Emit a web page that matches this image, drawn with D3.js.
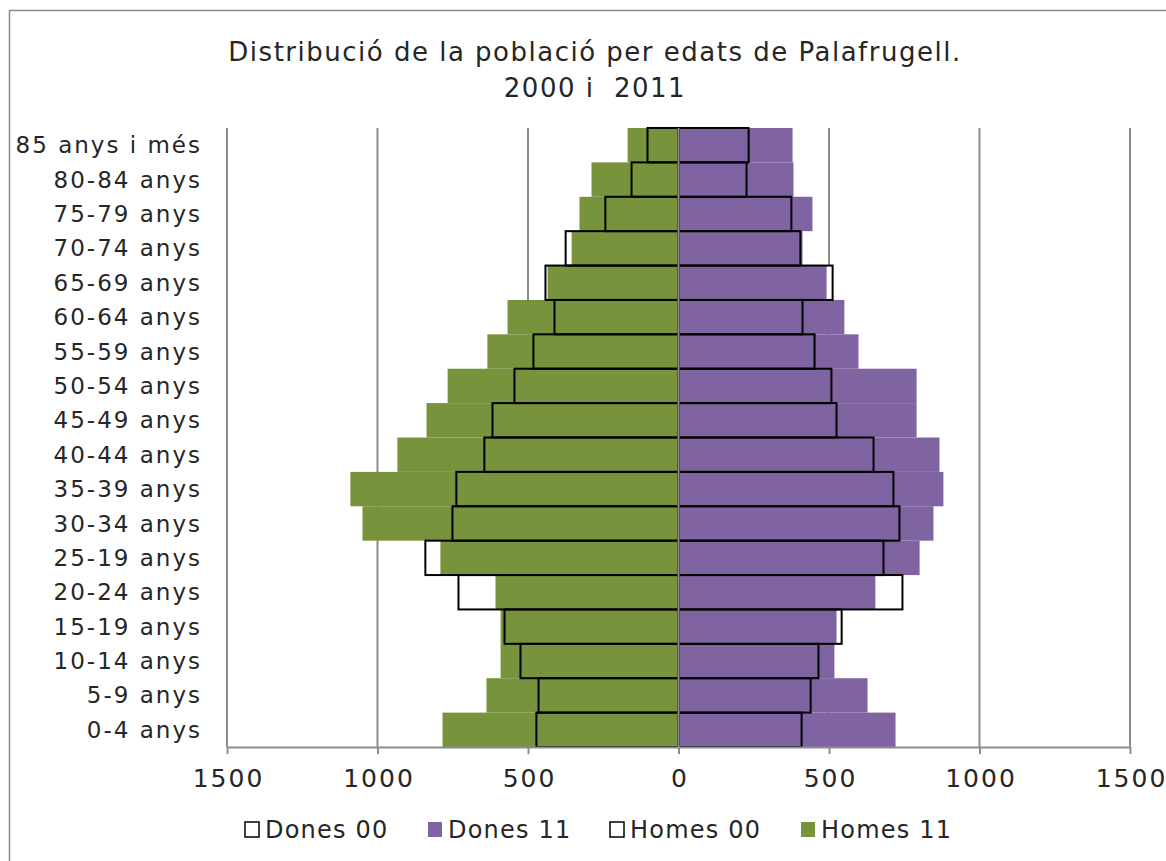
<!DOCTYPE html>
<html>
<head>
<meta charset="utf-8">
<script src="https://cdn.jsdelivr.net/npm/d3@7"></script>
<style>
  body { margin: 0; background: #fff; }
  text { font-family: "DejaVu Sans", sans-serif; fill: #262626; }
</style>
</head>
<body>
<svg id="chart" width="1166" height="861"></svg>
<script>
// age groups, bottom to top (labels as in the original, typo included)
let ages = ["0-4 anys", "5-9 anys", "10-14 anys", "15-19 anys", "20-24 anys", "25-19 anys",
  "30-34 anys", "35-39 anys", "40-44 anys", "45-49 anys", "50-54 anys", "55-59 anys",
  "60-64 anys", "65-69 anys", "70-74 anys", "75-79 anys", "80-84 anys", "85 anys i més"]

let dones00 = [409, 439, 465, 542, 744, 681, 734, 714, 648, 525, 508, 452, 412, 512, 405, 375, 226, 233]
let dones11 = [721, 628, 518, 525, 654, 801, 847, 880, 867, 791, 791, 598, 551, 492, 412, 445, 382, 379]
let homes00 = [472, 465, 525, 578, 731, 841, 751, 738, 645, 618, 545, 482, 412, 442, 375, 243, 156, 103]
let homes11 = [784, 638, 591, 591, 608, 791, 1050, 1090, 934, 837, 767, 635, 568, 435, 355, 329, 289, 169]

let ticks = [-1500, -1000, -500, 0, 500, 1000, 1500]
let titleLines = ["Distribució de la població per edats de Palafrugell.", "2000 i  2011"]

let green = "#77933c", purple = "#8064a2", grid = "#8c8c8c"

let svg = d3.select("#chart")

// chart border (runs off the right/bottom of the picture)
svg.append("rect")
  .attr("x", 9.5).attr("y", 10.5)
  .attr("width", 1200).attr("height", 900)
  .attr("fill", "none").attr("stroke", "#888").attr("stroke-width", 1.5)

let x = d3.scaleLinear().domain([-1500, 1500]).range([227, 1130])
let y = d3.scaleBand().domain(ages.slice().reverse()).range([128, 747]).padding(0)

// vertical gridlines
svg.append("g").selectAll("line")
  .data(ticks.filter(d => d != 0))
  .enter().append("line")
  .attr("x1", d => x(d)).attr("x2", d => x(d))
  .attr("y1", 128).attr("y2", 747)
  .attr("stroke", grid).attr("stroke-width", 2)

function rows(vals, side) {
  return vals.map((v, i) => ({ age: ages[i], v: v * side }))
}

function bars(data, cls, fill, stroke) {
  svg.append("g").attr("class", cls)
    .selectAll("rect")
    .data(data)
    .enter().append("rect")
    .attr("x", d => Math.min(x(0), x(d.v)))
    .attr("width", d => Math.abs(x(d.v) - x(0)))
    .attr("y", d => y(d.age))
    .attr("height", y.bandwidth())
    .attr("fill", fill)
    .attr("stroke", stroke)
    .attr("stroke-width", stroke == "none" ? 0 : 2)
}

// 2000 bars: white under, then 2011 filled, then 2000 outlines on top
bars(rows(dones00, 1), "d00bg", "#fff", "none")
bars(rows(homes00, -1), "h00bg", "#fff", "none")
bars(rows(dones11, 1), "d11", purple, "none")
bars(rows(homes11, -1), "h11", green, "none")
bars(rows(dones00, 1), "d00", "none", "#000")
bars(rows(homes00, -1), "h00", "none", "#000")

// zero line
svg.append("line")
  .attr("x1", x(0)).attr("x2", x(0))
  .attr("y1", 128).attr("y2", 747)
  .attr("stroke", grid).attr("stroke-width", 2)

// x axis
let xAxis = d3.axisBottom(x)
  .tickValues(ticks)
  .tickFormat(d => Math.abs(d))
  .tickSize(7)
  .tickSizeOuter(0)

let ax = svg.append("g")
  .attr("transform", "translate(0,747)")
  .call(xAxis)
ax.select(".domain").attr("stroke", grid).attr("stroke-width", 2)
ax.selectAll(".tick line").attr("stroke", grid).attr("stroke-width", 2)
ax.selectAll(".tick text")
  .attr("y", 22)
  .attr("dx", 1)
  .style("font-size", "25px")
  .style("letter-spacing", "2px")
  .style("font-family", "DejaVu Sans, sans-serif")
  .attr("fill", "#262626")

// age labels
svg.append("g").selectAll("text")
  .data(ages)
  .enter().append("text")
  .attr("x", 202)
  .attr("y", d => y(d) + y.bandwidth() / 2)
  .attr("dy", "0.35em")
  .attr("text-anchor", "end")
  .style("font-size", "23px")
  .style("letter-spacing", "2px")
  .text(d => d)

// title
svg.append("g").selectAll("text")
  .data(titleLines)
  .enter().append("text")
  .attr("x", 595)
  .attr("y", (d, i) => 61 + i * 36)
  .attr("text-anchor", "middle")
  .style("font-size", "26px")
  .style("letter-spacing", "1.5px")
  .style("white-space", "pre")
  .text(d => d)

// legend
let legendItems = [
  { name: "Dones 00", fill: "#fff", stroke: "#000", x: 245 },
  { name: "Dones 11", fill: purple, stroke: "none", x: 428 },
  { name: "Homes 00", fill: "#fff", stroke: "#000", x: 610 },
  { name: "Homes 11", fill: green, stroke: "none", x: 801 }
]
let leg = svg.append("g").selectAll("g")
  .data(legendItems)
  .enter().append("g")
  .attr("transform", d => "translate(" + d.x + ",822)")
leg.append("rect")
  .attr("width", 14).attr("height", 15)
  .attr("fill", d => d.fill)
  .attr("stroke", d => d.stroke)
  .attr("stroke-width", 1.5)
leg.append("text")
  .attr("x", 20).attr("y", 7.5)
  .attr("dy", "0.35em")
  .style("font-size", "24px")
  .style("letter-spacing", "1.2px")
  .text(d => d.name)
</script>
</body>
</html>
